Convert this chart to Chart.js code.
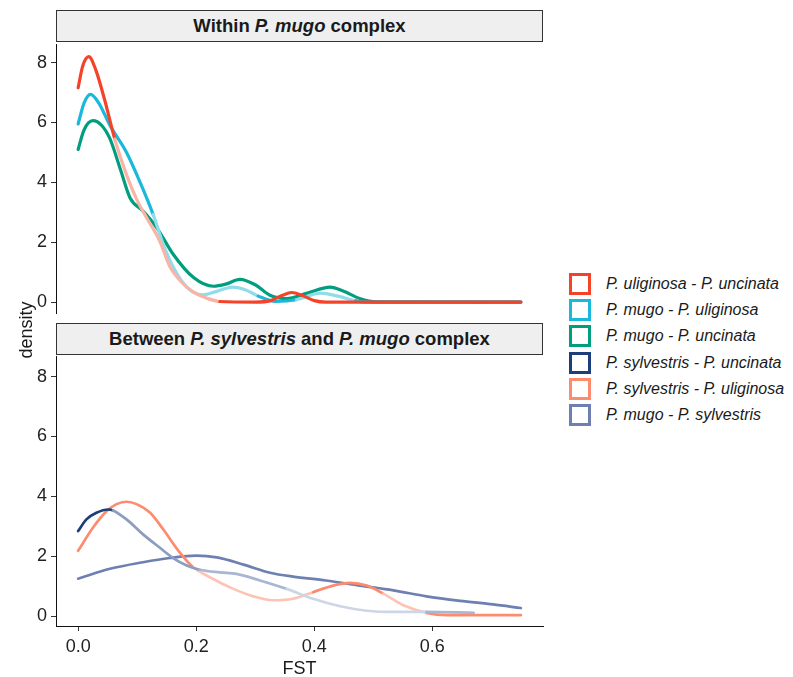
<!DOCTYPE html>
<html>
<head>
<meta charset="utf-8">
<script src="https://cdn.jsdelivr.net/npm/chart.js@4.4.0/dist/chart.umd.min.js"></script>
<style>
  body { margin: 0; background: #fff; font-family: 'Liberation Sans', Arial, sans-serif; }
  #wrap { position: relative; width: 793px; height: 677px; overflow: hidden; background: #fff; }
  .strip {
    position: absolute; left: 56px; width: 487px; height: 32px;
    background: #efefef; border: 1px solid #333; box-sizing: border-box;
    text-align: center; line-height: 30px; font-size: 18.5px; font-weight: bold; color: #1a1a1a;
  }
  .box { position: absolute; left: 0; }
  #ylab {
    position: absolute; left: -24px; top: 319px; width: 100px; height: 22px;
    line-height: 22px; text-align: center; font-size: 18px; color: #1a1a1a;
    transform: rotate(-90deg);
  }
  #legend { position: absolute; left: 569px; top: 271px; }
  .row { display: flex; align-items: center; height: 26.2px; }
  .key { width: 22px; height: 22px; box-sizing: border-box; border: 3px solid; background: #fff; }
  .lab { margin-left: 15px; font-size: 16px; font-style: italic; color: #1a1a1a; white-space: nowrap; }
</style>
</head>
<body>
<div id="wrap">
  <div class="strip" style="top:10px">Within <i>P. mugo</i> complex</div>
  <div class="strip" style="top:323px">Between <i>P. sylvestris</i> and <i>P. mugo</i> complex</div>
  <div class="box" style="top:30px"><canvas id="topChart" width="560" height="300"></canvas></div>
  <div class="box" style="top:342px"><canvas id="botChart" width="560" height="338"></canvas></div>
  <div id="ylab">density</div>
  <div id="legend"></div>
</div>
<script>
// axis ticks
const fstTicks = [0, 0.2, 0.4, 0.6];
const densityTicks = [0, 2, 4, 6, 8];

const seriesNames = [
  'P. uliginosa - P. uncinata',
  'P. mugo - P. uliginosa',
  'P. mugo - P. uncinata',
  'P. sylvestris - P. uncinata',
  'P. sylvestris - P. uliginosa',
  'P. mugo - P. sylvestris'
];
const seriesColors = ['#f5432a', '#1ab8db', '#009e7e', '#1b3f7a', '#fd8b6e', '#6e80b2'];

// Within P. mugo complex
const uligUncFst = [0, 0.008, 0.018, 0.03, 0.045, 0.062, 0.082, 0.1, 0.116, 0.138, 0.155, 0.17, 0.184, 0.2, 0.215, 0.24, 0.3, 0.325, 0.345, 0.362, 0.38, 0.4, 0.42, 0.75];
const uligUncDens = [7.16, 7.9, 8.2, 7.75, 6.75, 5.45, 4.25, 3.4, 2.82, 2.05, 1.2, 0.78, 0.5, 0.28, 0.15, 0.02, 0, 0.04, 0.22, 0.32, 0.22, 0.05, 0, 0];

const mugoUligFst = [0, 0.01, 0.021, 0.035, 0.054, 0.082, 0.105, 0.127, 0.144, 0.161, 0.184, 0.21, 0.235, 0.262, 0.285, 0.305, 0.335, 0.37, 0.41, 0.44, 0.47, 0.495, 0.75];
const mugoUligDens = [5.95, 6.65, 6.94, 6.65, 5.9, 5.0, 4.0, 2.93, 1.94, 1.17, 0.5, 0.24, 0.36, 0.5, 0.4, 0.2, 0.02, 0.08, 0.3, 0.2, 0.04, 0, 0];

const mugoUncFst = [0, 0.01, 0.025, 0.04, 0.054, 0.071, 0.088, 0.11, 0.133, 0.161, 0.195, 0.229, 0.25, 0.274, 0.3, 0.325, 0.353, 0.387, 0.427, 0.45, 0.477, 0.506, 0.75];
const mugoUncDens = [5.1, 5.75, 6.06, 5.9, 5.45, 4.47, 3.48, 3.04, 2.49, 1.6, 0.83, 0.53, 0.6, 0.76, 0.58, 0.23, 0.12, 0.29, 0.5, 0.36, 0.12, 0.01, 0];

// Between P. sylvestris and P. mugo complex
const sylvUncFst = [0, 0.014, 0.031, 0.051, 0.059, 0.082, 0.11, 0.138, 0.161, 0.184, 0.206, 0.24, 0.268, 0.308, 0.353, 0.398, 0.444, 0.489, 0.534, 0.59, 0.67];
const sylvUncDens = [2.84, 3.23, 3.45, 3.56, 3.53, 3.23, 2.73, 2.29, 1.94, 1.69, 1.55, 1.46, 1.41, 1.19, 0.91, 0.58, 0.33, 0.18, 0.14, 0.14, 0.11];

const sylvUligFst = [0, 0.025, 0.048, 0.065, 0.082, 0.099, 0.122, 0.144, 0.172, 0.195, 0.223, 0.263, 0.297, 0.33, 0.364, 0.398, 0.432, 0.46, 0.489, 0.517, 0.551, 0.59, 0.624, 0.75];
const sylvUligDens = [2.18, 2.95, 3.5, 3.74, 3.82, 3.74, 3.45, 2.9, 2.13, 1.63, 1.3, 0.91, 0.66, 0.53, 0.58, 0.8, 1.02, 1.11, 1.02, 0.75, 0.36, 0.11, 0.03, 0.03];

const mugoSylvFst = [0, 0.054, 0.11, 0.155, 0.2, 0.235, 0.28, 0.325, 0.364, 0.42, 0.477, 0.534, 0.59, 0.647, 0.703, 0.75];
const mugoSylvDens = [1.25, 1.58, 1.8, 1.94, 2.02, 1.96, 1.72, 1.45, 1.32, 1.19, 1.02, 0.86, 0.66, 0.51, 0.39, 0.27];

// lighter stretches of some curves (fst from, fst to, colour)
const fades = [
  [[0.055, 0.235, '#f9b4a7']],
  [[0.13, 0.32, '#8fdcea'], [0.36, 0.46, '#8fdcea']],
  [],
  [[0.055, 0.2, '#8c9dc0'], [0.2, 0.34, '#a9b6d1'], [0.34, 0.58, '#cdd6e4'], [0.58, 0.7, '#a9b6d1']],
  [[0.19, 0.4, '#fdc4b5'], [0.52, 0.6, '#fdc4b5']],
  []
];

function pts(xs, ys) {
  return xs.map((x, i) => ({ x: x, y: ys[i] }));
}

function makeSet(i, xs, ys, width) {
  const f = fades[i];
  return {
    label: seriesNames[i],
    data: pts(xs, ys),
    borderColor: seriesColors[i],
    borderWidth: width,
    pointRadius: 0,
    cubicInterpolationMode: 'monotone',
    borderCapStyle: 'round',
    borderJoinStyle: 'round',
    fill: false,
    segment: {
      borderColor: ctx => {
        const mid = (ctx.p0.parsed.x + ctx.p1.parsed.x) / 2;
        for (const r of f) if (mid >= r[0] && mid < r[1]) return r[2];
        return seriesColors[i];
      }
    }
  };
}

const tickFont = { family: "'Liberation Sans', Arial, sans-serif", size: 18 };

function panel(id, sets, yMin, yMax, showX, pad) {
  return new Chart(document.getElementById(id), {
    type: 'line',
    data: { datasets: sets },
    options: {
      responsive: false,
      animation: false,
      layout: { padding: pad },
      plugins: { legend: { display: false }, tooltip: { enabled: false } },
      scales: {
        x: {
          type: 'linear',
          display: showX,
          min: -0.0375,
          max: 0.7875,
          afterBuildTicks: s => { s.ticks = fstTicks.map(v => ({ value: v })); },
          afterFit: s => { if (showX) s.height = 54; },
          ticks: { font: tickFont, color: '#222', padding: 5, maxRotation: 0, callback: v => v.toFixed(1) },
          grid: { display: true, drawOnChartArea: false, tickLength: 5, color: '#333' },
          border: { display: true, color: '#111', width: 1 },
          title: { display: true, text: 'FST', font: tickFont, color: '#1a1a1a', padding: 0 }
        },
        y: {
          type: 'linear',
          min: yMin,
          max: yMax,
          afterBuildTicks: s => { s.ticks = densityTicks.map(v => ({ value: v })); },
          afterFit: s => { s.width = 56; },
          ticks: { font: tickFont, color: '#222', padding: 4 },
          grid: { display: true, drawOnChartArea: false, tickLength: 5, color: '#333' },
          border: { display: true, color: '#111', width: 1 }
        }
      }
    }
  });
}

panel('topChart', [
  makeSet(0, uligUncFst, uligUncDens, 3.2),
  makeSet(1, mugoUligFst, mugoUligDens, 3.2),
  makeSet(2, mugoUncFst, mugoUncDens, 3.2)
], -0.364, 8.595, false, { top: 12, right: 17, bottom: 17, left: 0 });

panel('botChart', [
  makeSet(3, sylvUncFst, sylvUncDens, 2.7),
  makeSet(4, sylvUligFst, sylvUligDens, 2.7),
  makeSet(5, mugoSylvFst, mugoSylvDens, 2.7)
], -0.33, 8.66, true, { top: 12, right: 17, bottom: 0, left: 0 });

// legend
const legend = document.getElementById('legend');
seriesNames.forEach((name, i) => {
  const row = document.createElement('div');
  row.className = 'row';
  row.innerHTML = '<div class="key" style="border-color:' + seriesColors[i] + '"></div><div class="lab">' + name + '</div>';
  legend.appendChild(row);
});
</script>
</body>
</html>
